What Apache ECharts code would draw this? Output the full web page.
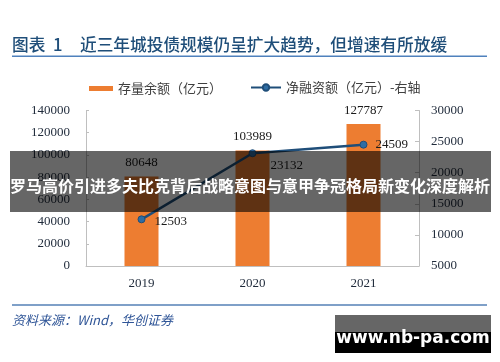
<!DOCTYPE html>
<html><head><meta charset="utf-8">
<script src="https://cdn.jsdelivr.net/npm/echarts@6/dist/echarts.min.js"></script>
<style>html,body{margin:0;padding:0;background:#fff}#c{width:500px;height:362px}</style>
</head><body><div id="c"></div>
<script>
const categories = ['2019', '2020', '2021'];
const stockValues = [80648, 103989, 127787];
const netFinancing = [12503, 23132, 24509];
const leftTicks = [0, 20000, 40000, 60000, 80000, 100000, 120000, 140000];
const rightTicks = [5000, 10000, 15000, 20000, 25000, 30000];
const barName = '存量余额（亿元）';
const lineName = '净融资额（亿元）-右轴';

const chart = echarts.init(document.getElementById('c'), null, {renderer: 'canvas'});
const serif = '"Liberation Serif", "Times New Roman", serif';
const cjk = '"Noto Sans CJK SC", sans-serif';
const axisCol = '#bfbfbf';
const labCol = '#1f2a3a';

chart.setOption({
  animation: false,
  backgroundColor: '#fff',
  grid: {left: 86, right: 81, top: 110.5, bottom: 96},
  legend: [
    {data: [{name: barName, icon: 'rect'}], left: 84, top: 77, itemWidth: 24, itemHeight: 5,
     textStyle: {fontFamily: cjk, fontSize: 13, color: '#404040'}, itemGap: 4},
    {data: [{name: lineName}], left: 245, top: 76, itemWidth: 30, itemHeight: 8, itemGap: 4,
     textStyle: {fontFamily: cjk, fontSize: 13, color: '#404040'}}
  ],
  xAxis: {
    type: 'category', data: categories,
    axisLine: {lineStyle: {color: axisCol, width: 1}},
    axisTick: {inside: true, length: 5, lineStyle: {color: axisCol}},
    axisLabel: {margin: 11, fontFamily: serif, fontSize: 13, color: labCol}
  },
  yAxis: [
    {type: 'value', min: leftTicks[0], max: leftTicks[leftTicks.length - 1], interval: 20000,
     splitLine: {show: false},
     axisLine: {show: true, lineStyle: {color: axisCol}},
     axisTick: {show: true, inside: true, length: 3, lineStyle: {color: axisCol}},
     axisLabel: {margin: 16, fontFamily: serif, fontSize: 13, color: labCol, formatter: v => String(v)}},
    {type: 'value', min: rightTicks[0], max: rightTicks[rightTicks.length - 1], interval: 5000,
     alignTicks: false, splitLine: {show: false},
     axisLine: {show: true, lineStyle: {color: axisCol}},
     axisTick: {show: true, inside: true, length: 4, lineStyle: {color: axisCol}},
     axisLabel: {margin: 12, fontFamily: serif, fontSize: 13, color: labCol, formatter: v => String(v)}}
  ],
  series: [
    {name: barName, type: 'bar', data: stockValues, barWidth: 34, yAxisIndex: 0,
     itemStyle: {color: '#ED7D31'},
     label: {show: true, position: 'top', distance: 7, fontFamily: serif, fontSize: 13, color: '#1a1a1a',
       formatter: p => String(p.value)}},
    {name: lineName, type: 'line', data: netFinancing, yAxisIndex: 1,
     symbol: 'circle', symbolSize: 7,
     lineStyle: {color: '#1F4E79', width: 2.5},
     itemStyle: {color: '#2E6DA4', borderColor: '#1F4E79', borderWidth: 1},
     label: {show: true, fontFamily: serif, fontSize: 13, color: '#1a1a1a',
       formatter: p => String(p.value),
       position: 'right', distance: 6},
     labelLayout: function (p) {
       if (p.dataIndex === 1) return {dx: 8, dy: 12};
       if (p.dataIndex === 0) return {dx: 3, dy: 2};
       return {dx: 2};
     }}
  ],
  graphic: [
    {type: 'text', left: 12, top: 36, z: 10, style: {text: '图表  1', fill: '#1F4E79', font: '500 16.7px ' + cjk}},
    {type: 'text', left: 80, top: 36, z: 10, style: {text: '近三年城投债规模仍呈扩大趋势，但增速有所放缓', fill: '#1F4E79', font: '500 16.7px ' + cjk}},
    {type: 'rect', z: 10, shape: {x: 12, y: 55.5, width: 475, height: 1.5}, style: {fill: '#4F81BD'}},
    {type: 'rect', z: 10, shape: {x: 12, y: 304, width: 475, height: 2}, style: {fill: '#7FA0C8'}},
    {type: 'text', left: 12, top: 314, z: 10, style: {text: '资料来源：Wind，华创证券', fill: '#2F5597', font: 'italic 13px ' + cjk}},
    {type: 'rect', z: 100, shape: {x: 10, y: 151, width: 481, height: 61}, style: {fill: 'rgba(0,0,0,0.6)'}},
    {type: 'text', z: 101, x: 250, y: 186, style: {text: '罗马高价引进多夫比克背后战略意图与意甲争冠格局新变化深度解析', fill: '#fff', font: 'bold 16px ' + cjk, align: 'center', verticalAlign: 'middle'}},
    {type: 'rect', z: 100, shape: {x: 335, y: 315, width: 156, height: 17}, style: {fill: 'rgba(0,0,0,0.6)'}},
    {type: 'rect', z: 100, shape: {x: 335, y: 332, width: 156, height: 21}, style: {fill: '#000'}},
    {type: 'text', z: 101, x: 413, y: 339, style: {text: 'www.nb-pa.com', fill: '#fff', font: 'bold 17px "DejaVu Sans", sans-serif', align: 'center', verticalAlign: 'middle'}}
  ]
});
</script></body></html>
